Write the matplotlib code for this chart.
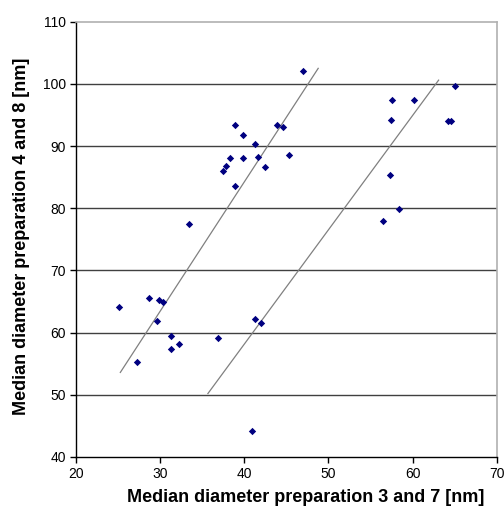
import numpy as np
import matplotlib.pyplot as plt

plt.rcParams['font.family'] = ['Liberation Sans', 'DejaVu Sans']

# median diameters, preparation 3/7 (x) vs 4/8 (y)
x_vals = [47.0, 38.9, 39.9, 41.3, 43.9, 44.6, 38.3, 39.9, 41.7, 45.3,
          37.9, 37.5, 42.5, 38.9, 33.4,
          57.6, 60.2, 65.1, 57.5, 64.2, 64.6, 57.3, 58.4, 56.5,
          25.1, 28.7, 29.9, 30.4, 29.6, 31.3, 32.3, 31.3, 27.3, 36.9,
          41.3, 42.0, 40.9]
y_vals = [102.1, 93.4, 91.7, 90.4, 93.4, 93.1, 88.1, 88.1, 88.2, 88.5,
          86.8, 86.0, 86.6, 83.5, 77.5,
          97.4, 97.4, 99.6, 94.2, 94.1, 94.1, 85.4, 79.9, 78.0,
          64.2, 65.5, 65.2, 64.9, 61.8, 59.5, 58.2, 57.3, 55.2, 59.2,
          62.2, 61.5, 44.2]

# trend lines (end points)
line1_x = [25.3, 48.8]
line1_y = [53.6, 102.5]
line2_x = [35.7, 63.1]
line2_y = [50.2, 100.6]

x_ticks = [20, 30, 40, 50, 60, 70]
y_ticks = [40, 50, 60, 70, 80, 90, 100, 110]

fig = plt.figure(figsize=(5.04, 5.07), dpi=100)
ax = fig.add_axes([75.7 / 504, 1 - 457 / 507, 421 / 504, 435.3 / 507])

for yv in y_ticks[1:-1]:
    ax.axhline(yv, color='#404040', lw=1.0, zorder=1)

ax.plot(line1_x, line1_y, color='#808080', lw=0.9, zorder=2)
ax.plot(line2_x, line2_y, color='#808080', lw=0.9, zorder=2)
ax.scatter(x_vals, y_vals, marker='D', s=14, color='#000080', lw=0, zorder=3)

ax.set_xlim(20, 70)
ax.set_ylim(40, 110)
ax.set_xticks(x_ticks)
ax.set_yticks(y_ticks)
ax.tick_params(direction='out', length=4, width=1, labelsize=10, colors='black', pad=3)

for s in ['top', 'right']:
    ax.spines[s].set_color('#b0b0b0')
    ax.spines[s].set_linewidth(1.2)
for s in ['left', 'bottom']:
    ax.spines[s].set_color('black')
    ax.spines[s].set_linewidth(1.0)

fig.text(305.5 / 504, 1 - 497 / 507, 'Median diameter preparation 3 and 7 [nm]',
         ha='center', va='center', fontsize=13, fontweight='bold')
fig.text(22 / 504, 1 - 236.5 / 507, 'Median diameter preparation 4 and 8 [nm]',
         ha='center', va='center', rotation=90, fontsize=13, fontweight='bold')

fig.savefig('out.png', dpi=100)
